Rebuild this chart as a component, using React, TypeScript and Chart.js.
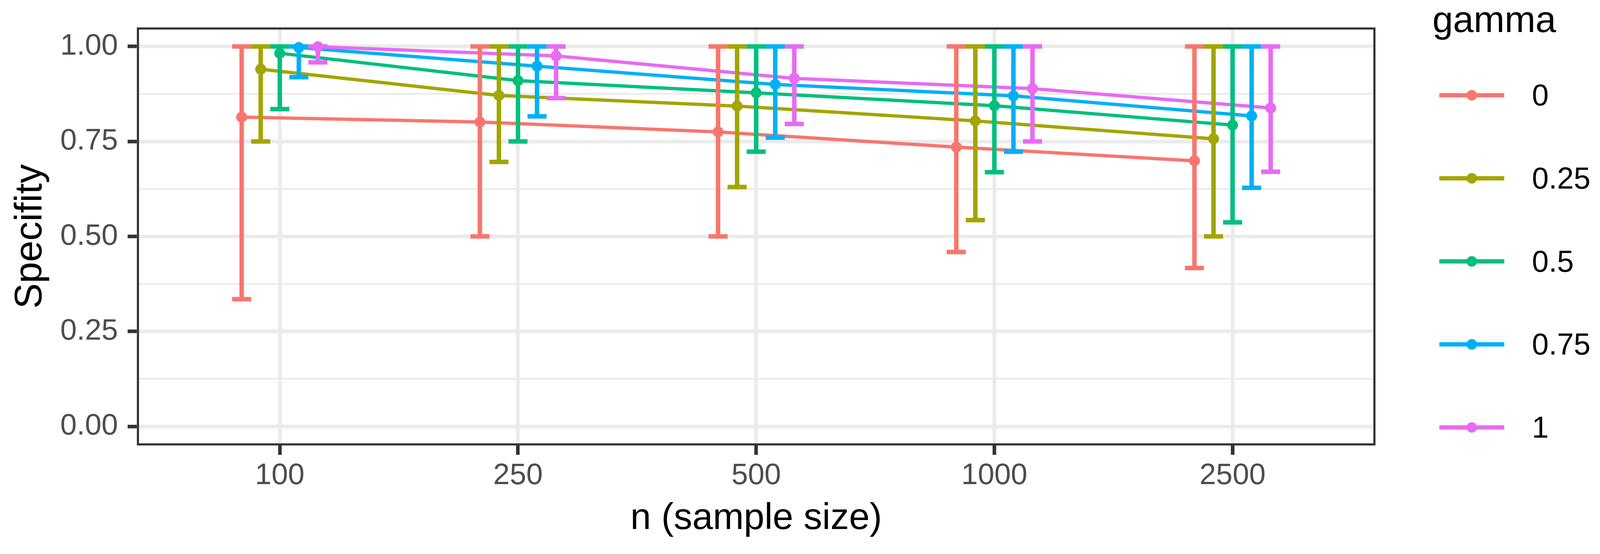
import React, { useEffect, useRef } from "react";
import { Chart, registerables, type ChartConfiguration, type Plugin } from "chart.js";

Chart.register(...registerables);

// categories / levels
const sampleSizes = ["100", "250", "500", "1000", "2500"];
const gammaLevels = ["0", "0.25", "0.5", "0.75", "1"];
const yGridSteps = [0, 0.125, 0.25, 0.375, 0.5, 0.625, 0.75, 0.875, 1];
const yTickLabels = ["0.00", "0.25", "0.50", "0.75", "1.00"];

// mean specificity per gamma, by sample size
const specGamma0 = [0.814, 0.801, 0.775, 0.735, 0.699];
const specGamma025 = [0.94, 0.871, 0.843, 0.804, 0.757];
const specGamma05 = [0.982, 0.91, 0.878, 0.844, 0.793];
const specGamma075 = [0.997, 0.948, 0.9, 0.87, 0.817];
const specGamma1 = [0.999, 0.975, 0.916, 0.889, 0.838];

// error bar bounds
const lowerGamma0 = [0.335, 0.5, 0.5, 0.459, 0.417];
const lowerGamma025 = [0.75, 0.696, 0.63, 0.543, 0.5];
const lowerGamma05 = [0.835, 0.75, 0.723, 0.669, 0.537];
const lowerGamma075 = [0.919, 0.816, 0.76, 0.723, 0.628];
const lowerGamma1 = [0.958, 0.864, 0.796, 0.75, 0.67];

const upperGamma0 = [1, 1, 1, 1, 1];
const upperGamma025 = [1, 1, 1, 1, 1];
const upperGamma05 = [1, 1, 1, 1, 1];
const upperGamma075 = [1, 1, 1, 1, 1];
const upperGamma1 = [1, 1, 1, 1, 1];

const seriesColors = ["#F8766D", "#A3A500", "#00BF7D", "#00B0F6", "#E76BF3"];

const FONT = '"Liberation Sans", Arial, Helvetica, sans-serif';
const DESIGN_W = 4162; // layout below is measured on a 4162 px wide figure
const DODGE = 0.08; // spacing between gamma groups (category units)
const CAP_HALF = 0.04;

const series = gammaLevels.map((label, i) => ({
  label,
  color: seriesColors[i],
  mean: [specGamma0, specGamma025, specGamma05, specGamma075, specGamma1][i],
  lower: [lowerGamma0, lowerGamma025, lowerGamma05, lowerGamma075, lowerGamma1][i],
  upper: [upperGamma0, upperGamma025, upperGamma05, upperGamma075, upperGamma1][i],
  offset: (i - (gammaLevels.length - 1) / 2) * DODGE,
}));

const FIRST_POINT_DATASET = series.length; // red points, drawn first among the point layers

// error bars sit above the lines but below the points
const errorBarPlugin: Plugin<"line"> = {
  id: "errorBars",
  beforeDatasetDraw(chart, args) {
    if (args.index !== FIRST_POINT_DATASET) return;
    const { ctx, chartArea, scales } = chart;
    const xs = scales.x;
    const ys = scales.y;
    ctx.save();
    ctx.beginPath();
    ctx.rect(chartArea.left, chartArea.top, chartArea.width, chartArea.height);
    ctx.clip();
    ctx.lineWidth = 11.5;
    ctx.lineCap = "butt";
    series.forEach((s) => {
      ctx.strokeStyle = s.color;
      sampleSizes.forEach((_, ci) => {
        const cx = ci + s.offset;
        const px = xs.getPixelForValue(cx);
        const l = xs.getPixelForValue(cx - CAP_HALF);
        const r = xs.getPixelForValue(cx + CAP_HALF);
        const top = ys.getPixelForValue(s.upper[ci]);
        const bot = ys.getPixelForValue(s.lower[ci]);
        ctx.beginPath();
        ctx.moveTo(l, top);
        ctx.lineTo(r, top);
        ctx.moveTo(px, top);
        ctx.lineTo(px, bot);
        ctx.moveTo(l, bot);
        ctx.lineTo(r, bot);
        ctx.stroke();
      });
    });
    ctx.restore();
  },
  afterDatasetsDraw(chart) {
    // panel border, half of it clipped like ggplot
    const { ctx, chartArea } = chart;
    ctx.save();
    ctx.beginPath();
    ctx.rect(chartArea.left, chartArea.top, chartArea.width, chartArea.height);
    ctx.clip();
    ctx.strokeStyle = "#333333";
    ctx.lineWidth = 11;
    ctx.strokeRect(chartArea.left, chartArea.top, chartArea.width, chartArea.height);
    ctx.restore();
  },
};

const legendPlugin: Plugin<"line"> = {
  id: "gammaLegend",
  afterDraw(chart) {
    const { ctx } = chart;
    const sx = chart.width / DESIGN_W;
    const x0 = chart.chartArea.right + 148 * sx;
    ctx.save();
    ctx.fillStyle = "#000000";
    ctx.textAlign = "left";
    ctx.textBaseline = "alphabetic";
    ctx.font = `95px ${FONT}`;
    ctx.fillText("gamma", x0, 82);
    series.forEach((s, i) => {
      const yk = 244 + i * 212.7;
      ctx.strokeStyle = s.color;
      ctx.lineWidth = 11;
      ctx.beginPath();
      ctx.moveTo(x0 + 18 * sx, yk);
      ctx.lineTo(x0 + 187 * sx, yk);
      ctx.stroke();
      ctx.fillStyle = s.color;
      ctx.beginPath();
      ctx.arc(x0 + 102.5 * sx, yk, 13.5, 0, Math.PI * 2);
      ctx.fill();
      ctx.fillStyle = "#000000";
      ctx.font = `77px ${FONT}`;
      ctx.textBaseline = "middle";
      ctx.fillText(s.label, x0 + 259 * sx, yk + 5);
    });
    ctx.restore();
  },
};

export default function App() {
  const canvasRef = useRef<HTMLCanvasElement | null>(null);
  const chartRef = useRef<Chart<"line"> | null>(null);

  useEffect(() => {
    if (!canvasRef.current) return;
    // the viewport can be narrower than the figure; scale horizontal layout to fit
    const sx = Math.min(window.innerWidth || DESIGN_W, DESIGN_W) / DESIGN_W;

    const lineSets = series.map((s, i) => ({
      label: s.label,
      data: s.mean.map((v, ci) => ({ x: ci + s.offset, y: v })),
      borderColor: s.color,
      borderWidth: 8.5,
      pointRadius: 0,
      tension: 0,
      order: 20 - i,
    }));
    const pointSets = series.map((s, i) => ({
      label: s.label + " points",
      data: s.mean.map((v, ci) => ({ x: ci + s.offset, y: v })),
      showLine: false,
      borderColor: s.color,
      pointRadius: 14,
      pointBorderWidth: 0,
      pointBackgroundColor: s.color,
      order: 10 - i,
    }));

    const config: ChartConfiguration<"line"> = {
      type: "line",
      data: { datasets: [...lineSets, ...pointSets] as any },
      plugins: [errorBarPlugin, legendPlugin],
      options: {
        responsive: true,
        maintainAspectRatio: false,
        animation: false,
        devicePixelRatio: 1,
        events: [],
        layout: { padding: { top: 60, right: 584 * sx, left: 0, bottom: 0 } },
        plugins: {
          legend: { display: false },
          tooltip: { enabled: false },
        },
        scales: {
          x: {
            type: "linear",
            min: -0.6,
            max: 4.6,
            afterBuildTicks: (axis) => {
              axis.ticks = sampleSizes.map((_, i) => ({ value: i }));
            },
            afterFit: (scale) => {
              scale.height = 278;
            },
            ticks: {
              callback: (v) => sampleSizes[Math.round(Number(v))] ?? "",
              color: "#4D4D4D",
              font: { family: FONT, size: 76 },
              padding: 8,
              maxRotation: 0,
              autoSkip: false,
            },
            grid: {
              color: "#EBEBEB",
              lineWidth: 9.2,
              tickColor: "#333333",
              tickWidth: 9.2,
              tickLength: 24,
            },
            border: { display: false },
            title: {
              display: true,
              text: "n (sample size)",
              color: "#000000",
              font: { family: FONT, size: 95 },
              padding: { top: 0, bottom: 33 },
            },
          },
          y: {
            type: "linear",
            min: -0.05,
            max: 1.05,
            afterBuildTicks: (axis) => {
              axis.ticks = yGridSteps.map((v) => ({ value: v }));
            },
            afterFit: (scale) => {
              scale.width = 356 * sx;
            },
            ticks: {
              callback: (_v, index) => (index % 2 === 0 ? yTickLabels[index / 2] : ""),
              color: "#4D4D4D",
              font: { family: FONT, size: 76 },
              padding: 25 * sx,
              autoSkip: false,
            },
            grid: {
              color: "#EBEBEB",
              lineWidth: (c) => (c.index % 2 === 0 ? 9.2 : 4.6),
              tickColor: (c) => (c.index % 2 === 0 ? "#333333" : "rgba(0,0,0,0)"),
              tickWidth: 9.2,
              tickLength: 24 * sx,
            },
            border: { display: false },
            title: {
              display: true,
              text: "Specifity",
              color: "#000000",
              font: { family: FONT, size: 98 },
              padding: { top: 20 * sx, bottom: 0 },
            },
          },
        },
      },
    };

    chartRef.current = new Chart(canvasRef.current, config);

    return () => {
      chartRef.current?.destroy();
      chartRef.current = null;
    };
  }, []);

  return (
    <div style={{ position: "fixed", left: 0, top: 0, width: "100vw", height: "100vh", background: "#ffffff" }}>
      <canvas ref={canvasRef} aria-label="Specifity by sample size and gamma" />
    </div>
  );
}
